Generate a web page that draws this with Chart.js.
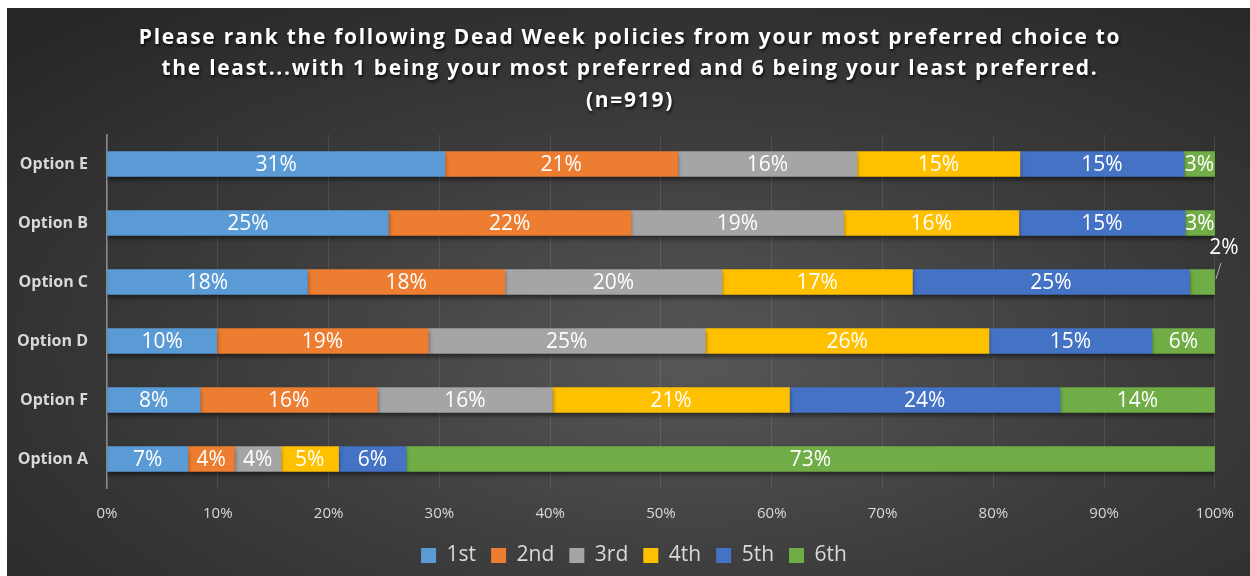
<!DOCTYPE html>
<html>
<head>
<meta charset="utf-8">
<script src="https://cdn.jsdelivr.net/npm/chart.js@4/dist/chart.umd.min.js"></script>
<style>
  html, body { margin: 0; padding: 0; background: #fff; }
  #panel {
    position: absolute; left: 7px; top: 8px; width: 1243px; height: 568px;
    background: radial-gradient(ellipse 75% 80% at 55% 62%, #575757 0%, #3c3c3c 50%, #272727 100%);
  }
  canvas { display: block; }
</style>
</head>
<body>
<div id="panel"><canvas id="chart" width="1243" height="568"></canvas></div>
<script>
// ─── Data ─── //
const categories = ['Option E', 'Option B', 'Option C', 'Option D', 'Option F', 'Option A'];
const rankLabels = ['1st', '2nd', '3rd', '4th', '5th', '6th'];
const first  = [30.5, 25.4, 18.1,  9.9,  8.4,  7.3];
const second = [21.0, 21.9, 17.8, 19.1, 16.0,  4.2];
const third  = [16.2, 19.2, 19.6, 25.0, 15.8,  4.2];
const fourth = [14.7, 15.8, 17.2, 25.6, 21.4,  5.2];
const fifth  = [14.8, 15.0, 25.0, 14.7, 24.4,  6.1];
const sixth  = [ 2.8,  2.7,  2.3,  5.7, 14.0, 73.0];
const xTicks = [0, 10, 20, 30, 40, 50, 60, 70, 80, 90, 100];
const titleLines = [
  'Please rank the following Dead Week policies from your most preferred choice to',
  'the least...with 1 being your most preferred and 6 being your least preferred.',
  '(n=919)'
];

// Office palette
const COLORS = ['#5b9bd5', '#ed7d31', '#a5a5a5', '#ffc000', '#4472c4', '#70ad47'];
const TEXT = '#d9d9d9';
const FONT = '"Open Sans", "DejaVu Sans", sans-serif';

// ─── Plugins ─── //
const titlePlugin = {
  id: 'shadowTitle',
  afterDraw(chart) {
    const ctx = chart.ctx;
    ctx.save();
    ctx.font = `bold 21px ${FONT}`;
    ctx.fillStyle = '#ffffff';
    ctx.textAlign = 'center';
    ctx.textBaseline = 'middle';
    ctx.letterSpacing = '1.7px';
    ctx.shadowColor = 'rgba(0,0,0,0.8)';
    ctx.shadowBlur = 3;
    ctx.shadowOffsetX = 1;
    ctx.shadowOffsetY = 2;
    titleLines.forEach((line, i) => ctx.fillText(line, 623, 30 + i * 31.5));
    ctx.restore();
  }
};

// legend is centred on the whole panel, not only left of the right padding
const legendShift = {
  id: 'legendShift',
  afterLayout(chart) {
    chart.legend.left += 22.5;
    chart.legend.right += 22.5;
  }
};

const barShadow = {
  id: 'barShadow',
  beforeDatasetsDraw(chart) {
    const ctx = chart.ctx;
    ctx.save();
    ctx.shadowColor = 'rgba(0,0,0,0.45)';
    ctx.shadowBlur = 4;
    ctx.shadowOffsetY = 3;
  },
  afterDatasetsDraw(chart) {
    chart.ctx.restore();
  }
};

const segmentLabels = {
  id: 'segmentLabels',
  afterDatasetsDraw(chart) {
    const ctx = chart.ctx;
    ctx.save();
    ctx.font = `21px ${FONT}`;
    ctx.fillStyle = '#ffffff';
    ctx.textAlign = 'center';
    ctx.textBaseline = 'middle';
    chart.data.datasets.forEach((ds, di) => {
      chart.getDatasetMeta(di).data.forEach((bar, i) => {
        const v = ds.data[i];
        const text = Math.round(v) + '%';
        if (v < 2.5) {
          // narrow slice: label outside, with leader line
          ctx.strokeStyle = 'rgba(255,255,255,0.6)';
          ctx.lineWidth = 1;
          ctx.beginPath();
          ctx.moveTo(bar.x + 1, bar.y - 3);
          ctx.lineTo(bar.x + 6, bar.y - 19);
          ctx.stroke();
          ctx.fillText(text, bar.x + 9, bar.y - 34);
        } else {
          ctx.fillText(text, (bar.x + bar.base) / 2, bar.y + 1);
        }
      });
    });
    ctx.restore();
  }
};

// ─── Chart ─── //
const series = [first, second, third, fourth, fifth, sixth];

new Chart(document.getElementById('chart'), {
  type: 'bar',
  data: {
    labels: categories,
    datasets: series.map((vals, i) => ({
      label: rankLabels[i],
      data: vals,
      backgroundColor: COLORS[i],
      borderWidth: 0,
      barThickness: 25,
    }))
  },
  options: {
    indexAxis: 'y',
    responsive: false,
    animation: false,
    layout: { padding: { top: 126.5, right: 34, left: 0, bottom: 0 } },
    scales: {
      x: {
        stacked: true,
        min: 0,
        max: 100,
        afterBuildTicks: (scale) => { scale.ticks = xTicks.map(v => ({ value: v })); },
        afterFit: (scale) => { scale.height = 41.5; },
        grid: { color: 'rgba(255,255,255,0.1)', drawTicks: false },
        border: { display: false },
        ticks: {
          padding: 16,
          color: TEXT,
          font: { family: FONT, size: 15 },
          callback: (v) => v + '%'
        }
      },
      y: {
        stacked: true,
        afterFit: (scale) => { scale.width = 100; },
        grid: { display: false, drawTicks: false },
        border: { color: '#8a8a8a', width: 1.5 },
        ticks: {
          padding: 19,
          color: TEXT,
          font: { family: FONT, size: 16, weight: 'bold' }
        }
      }
    },
    plugins: {
      title: { display: false },
      tooltip: { enabled: false },
      legend: {
        position: 'bottom',
        labels: {
          color: TEXT,
          boxWidth: 15,
          boxHeight: 15,
          padding: 15,
          font: { family: FONT, size: 21 }
        }
      }
    }
  },
  plugins: [legendShift, barShadow, segmentLabels, titlePlugin]
});
</script>
</body>
</html>
